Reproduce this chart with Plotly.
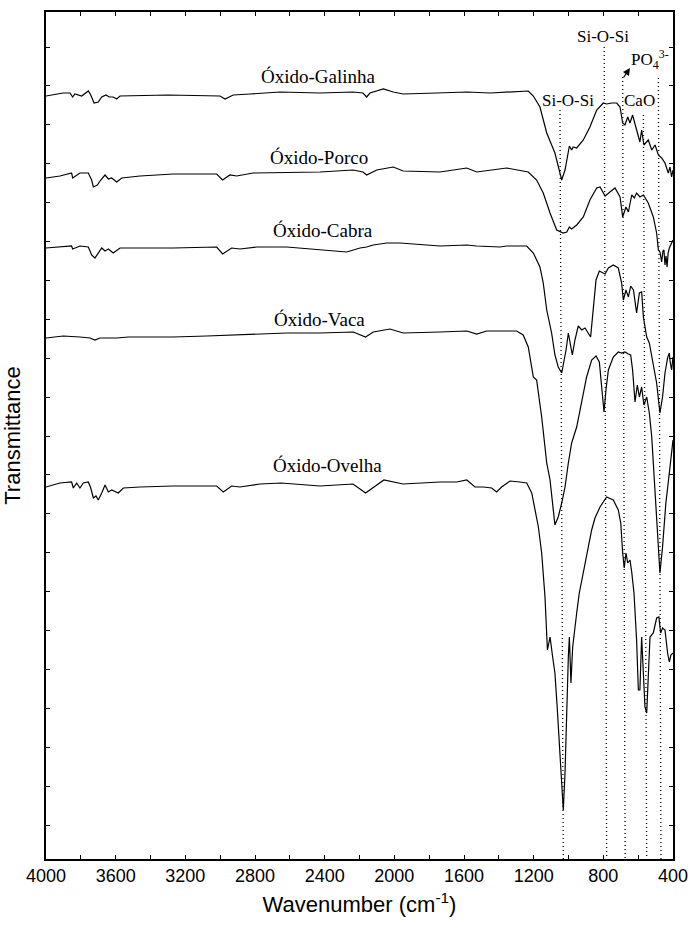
import plotly.graph_objects as go

# ---------------- data ----------------
names = ["Óxido-Galinha", "Óxido-Porco", "Óxido-Cabra", "Óxido-Vaca", "Óxido-Ovelha"]

wn_galinha = [4000, 3958, 3901, 3862, 3847, 3834, 3795, 3757, 3743, 3724, 3700, 3680, 3656, 3637, 3614, 3594, 3575,
              3300, 3001, 2972, 2925, 2829, 2656, 2427, 2237, 2180, 2159, 2140, 2063, 2006, 1949, 1757, 1584, 1450,
              1231, 1202, 1164, 1125, 1078, 1039, 1020, 995, 982, 973, 953, 915, 877, 838, 800, 781, 752, 723, 704,
              689, 676, 660, 647, 632, 609, 590, 580, 567, 542, 522, 503, 484, 465, 446, 427, 417, 408, 400]
t_galinha = [76.3, 76.4, 76.6, 76.6, 76.2, 76.5, 76.3, 76.8, 76.4, 75.6, 75.7, 76.2, 76.4, 76.2, 76.2, 76.0, 76.3,
             76.4, 76.3, 76.0, 76.4, 76.5, 76.7, 76.6, 76.7, 76.6, 76.2, 76.6, 77.0, 76.7, 76.5, 76.6, 76.7, 76.6,
             76.8, 76.3, 75.2, 72.6, 70.6, 67.9, 68.9, 71.3, 70.9, 71.2, 71.1, 71.9, 73.2, 74.9, 75.6, 75.5, 75.6, 75.6, 75.2,
             73.6, 73.4, 74.2, 73.6, 74.4, 72.9, 71.7, 72.9, 71.4, 71.9, 70.9, 71.4, 70.4, 70.1, 69.6, 68.6, 69.2, 68.2, 68.9]

wn_porco = [4000, 3920, 3853, 3847, 3805, 3757, 3738, 3728, 3705, 3686, 3661, 3642, 3623, 3594, 3565, 3460, 3269,
            3020, 2986, 2944, 2905, 2829, 2811, 2427, 2237, 2180, 2159, 2101, 2006, 1949, 1738, 1584, 1527, 1355,
            1231, 1183, 1145, 1106, 1068, 1030, 1010, 995, 982, 953, 915, 877, 838, 819, 800, 790, 762, 733, 704,
            689, 670, 656, 637, 622, 609, 590, 570, 542, 513, 494, 484, 475, 470, 465, 458, 452, 446, 440, 434,
            428, 421, 408, 400]
t_porco = [68.1, 68.3, 68.6, 68.1, 68.6, 68.6, 67.9, 67.2, 67.4, 67.9, 68.4, 68.0, 68.1, 67.7, 68.1, 68.3, 68.5,
           68.5, 67.9, 68.4, 68.3, 68.6, 68.6, 68.7, 68.9, 68.7, 68.4, 68.9, 69.2, 68.8, 68.7, 69.1, 68.7, 69.1,
           68.7, 67.9, 66.6, 64.6, 62.9, 62.6, 62.7, 63.2, 63.0, 63.4, 64.2, 65.9, 67.1, 67.2, 66.6, 66.3, 66.7, 67.1, 66.2,
           64.2, 65.2, 64.7, 66.4, 66.1, 66.6, 66.2, 66.4, 65.6, 64.2, 62.6, 60.9, 60.7, 60.2, 59.7, 60.8, 60.9, 59.4, 60.3, 59.2,
           60.6, 61.1, 61.6, 61.9]

wn_cabra = [4000, 3920, 3853, 3847, 3805, 3757, 3738, 3719, 3700, 3680, 3661, 3642, 3614, 3575, 3269, 3020, 2986,
            2934, 2886, 2790, 2618, 2427, 2273, 2197, 2159, 2121, 2044, 1967, 1738, 1584, 1527, 1393, 1355, 1240,
            1202, 1164, 1145, 1125, 1097, 1078, 1059, 1039, 1026, 1014, 1001, 987, 978, 963, 944, 924, 905, 873,
            858, 842, 823, 804, 790, 771, 743, 714, 695, 685, 670, 656, 643, 627, 609, 593, 580, 570, 551, 536,
            513, 494, 475, 460, 446, 431, 421, 417, 408, 400]
t_cabra = [61.1, 61.2, 61.3, 61.0, 61.3, 61.2, 60.4, 60.1, 60.6, 61.1, 60.8, 61.0, 60.6, 61.1, 61.1, 61.2, 60.5,
           61.1, 61.0, 61.2, 61.2, 60.9, 60.7, 61.1, 61.2, 61.4, 61.6, 61.6, 61.3, 61.4, 61.3, 61.2, 61.3, 61.3,
           60.6, 59.2, 57.6, 54.9, 52.6, 50.4, 49.2, 48.6, 49.7, 50.9, 52.6, 51.2, 50.4, 51.9, 53.3, 52.9, 53.1, 52.2,
           54.9, 57.9, 58.8, 58.6, 58.5, 59.1, 59.4, 59.1, 57.6, 55.9, 56.9, 56.2, 57.3, 56.9, 54.6, 56.6, 56.7, 54.2, 52.2, 51.6,
           49.6, 47.6, 44.6, 46.2, 48.6, 50.1, 50.6, 49.8, 48.9, 50.2]

wn_vaca = [4000, 3901, 3805, 3747, 3719, 3690, 3594, 3527, 3460, 3269, 3077, 2771, 2618, 2427, 2236, 2165, 2121,
           2025, 1949, 1738, 1584, 1527, 1470, 1298, 1260, 1231, 1202, 1183, 1154, 1125, 1106, 1078, 1059, 1039,
           1020, 1001, 982, 953, 924, 896, 867, 842, 823, 810, 796, 785, 771, 743, 714, 695, 676, 656, 643, 632,
           618, 605, 593, 580, 567, 551, 536, 522, 503, 484, 475, 460, 441, 421, 408, 400]
t_vaca = [52.1, 52.3, 52.2, 52.1, 51.9, 52.1, 52.1, 52.2, 52.2, 52.2, 52.3, 52.5, 52.6, 52.6, 52.7, 52.2, 52.7,
          53.0, 52.6, 52.7, 52.8, 52.5, 52.8, 52.8, 52.4, 51.2, 48.2, 47.9, 44.2, 39.6, 37.9, 33.4, 34.2, 35.6,
          37.2, 39.6, 41.6, 43.2, 45.6, 48.2, 49.9, 50.3, 49.7, 47.6, 44.7, 46.9, 48.9, 50.2, 50.7, 50.6, 50.7, 50.5, 50.4, 48.9,
          45.7, 47.4, 46.2, 47.2, 45.4, 46.2, 44.6, 42.2, 36.9, 31.9, 28.6, 31.2, 35.6, 38.6, 40.9, 41.9]

wn_ovelha = [4000, 3920, 3853, 3843, 3824, 3805, 3786, 3757, 3743, 3728, 3713, 3700, 3680, 3661, 3642, 3623, 3585,
             3556, 3460, 3269, 3020, 2982, 2934, 2886, 2771, 2650, 2427, 2237, 2165, 2060, 1950, 1738, 1642, 1584,
             1537, 1489, 1441, 1413, 1384, 1336, 1279, 1240, 1211, 1173, 1154, 1135, 1121, 1106, 1091, 1078, 1065,
             1049, 1039, 1030, 1020, 1010, 1001, 995, 986, 976, 963, 953, 938, 915, 887, 867, 848, 819, 781, 743,
             714, 700, 689, 680, 670, 660, 647, 637, 624, 609, 599, 590, 580, 570, 561, 551, 542, 532, 513, 494,
             481, 471, 460, 446, 431, 421, 412, 400]
t_ovelha = [37.2, 37.6, 37.7, 37.1, 37.6, 37.1, 37.6, 37.7, 37.1, 36.1, 36.3, 35.9, 36.6, 37.4, 36.7, 36.9, 36.6,
            37.1, 37.2, 37.3, 37.3, 36.7, 37.3, 37.2, 37.5, 37.6, 37.3, 37.5, 36.6, 37.9, 37.5, 37.7, 37.7, 37.9,
            37.2, 37.2, 37.1, 36.7, 37.2, 37.8, 37.7, 37.6, 36.6, 33.2, 30.6, 26.2, 20.9, 22.2, 20.2, 18.6, 15.2,
            10.2, 6.9, 4.9, 8.6, 15.2, 20.2, 22.2, 17.6, 21.2, 23.4, 24.6, 26.6, 28.6, 30.9, 32.9, 34.1, 35.2, 36.2, 35.9,
            34.9, 33.6, 30.6, 29.1, 30.6, 29.6, 29.9, 28.7, 26.6, 21.9, 16.9, 16.9, 22.2, 19.2, 15.2, 14.6, 18.6, 22.2, 22.6, 24.1,
            24.2, 22.6, 23.1, 22.9, 20.6, 19.7, 20.4, 20.6]

# series label positions (wavenumber, transmittance)
label_wn = [2433, 2433, 2410, 2427, 2381]
label_t = [78.3, 70.2, 62.9, 54.0, 39.4]

# band assignment guide lines: wavenumber at top / bottom, top transmittance
band_wn_top = [1049, 795, 689, 570, 484]
band_wn_bottom = [1030, 781, 675, 551, 469]
band_t_top = [74.9, 81.2, 78.2, 74.4, 78.1]

band_labels = ["Si-O-Si", "Si-O-Si", "CaO", "PO<sub>4</sub><sup>3-</sup>"]
band_label_wn = [1003, 800, 595, 532]
band_label_t = [75.9, 82.3, 75.9, 80.0]

ytick_vals = [3.4 + 3.89 * k for k in range(21)]

# ---------------- figure ----------------
fig = go.Figure()
series = [(wn_galinha, t_galinha), (wn_porco, t_porco), (wn_cabra, t_cabra),
          (wn_vaca, t_vaca), (wn_ovelha, t_ovelha)]
for (wx, ty), nm in zip(series, names):
    n = min(len(wx), len(ty))
    fig.add_trace(go.Scatter(x=wx[:n], y=ty[:n], mode="lines", name=nm,
                             line=dict(color="black", width=1.2), showlegend=False))

for wt, wb, tt in zip(band_wn_top, band_wn_bottom, band_t_top):
    fig.add_shape(type="line", xref="x", yref="y", x0=wt, y0=tt, x1=wb, y1=0,
                  line=dict(color="black", width=1.3, dash="1px,3px"))

serif = "Liberation Serif, Times New Roman, serif"
sans = "Liberation Sans, Arial, sans-serif"

for nm, lx, ly in zip(names, label_wn, label_t):
    fig.add_annotation(x=lx, y=ly, xref="x", yref="y", text=nm, showarrow=False,
                       font=dict(family=serif, size=19, color="black"))

for txt, lx, ly in zip(band_labels, band_label_wn, band_label_t):
    fig.add_annotation(x=lx, y=ly, xref="x", yref="y", text=txt, showarrow=False,
                       font=dict(family=serif, size=17, color="black"))

# small arrow pointing to the PO4 label
fig.add_annotation(x=647, y=79.1, ax=690, ay=78.0, xref="x", yref="y", axref="x", ayref="y",
                   text="", showarrow=True, arrowhead=2, arrowsize=1.2, arrowwidth=1.2, arrowcolor="black")

fig.update_xaxes(range=[4000, 400], tick0=400, dtick=400,
                 ticks="inside", ticklen=4, tickwidth=1, tickcolor="black",
                 minor=dict(dtick=200, tick0=400, ticks="inside", ticklen=4, tickwidth=1, tickcolor="black"),
                 showline=True, linecolor="black", linewidth=1.5, mirror="ticks",
                 showgrid=False, zeroline=False, ticklabeloverflow="allow",
                 tickfont=dict(family=sans, size=18, color="black"),
                 title=dict(text="Wavenumber (cm<sup>-1</sup>)", standoff=11,
                            font=dict(family=sans, size=22, color="black")),
                 automargin=False)
fig.update_yaxes(range=[0, 84.7], tickvals=ytick_vals, showticklabels=False,
                 ticks="inside", ticklen=4, tickwidth=1, tickcolor="black",
                 showline=True, linecolor="black", linewidth=1.5, mirror="ticks",
                 showgrid=False, zeroline=False,
                 title=dict(text="Transmittance", standoff=18,
                            font=dict(family=sans, size=22, color="black")),
                 automargin=False)

fig.update_layout(width=688, height=929, margin=dict(l=46, r=15, t=12, b=70),
                  plot_bgcolor="white", paper_bgcolor="white")

fig.write_html("out.html")
